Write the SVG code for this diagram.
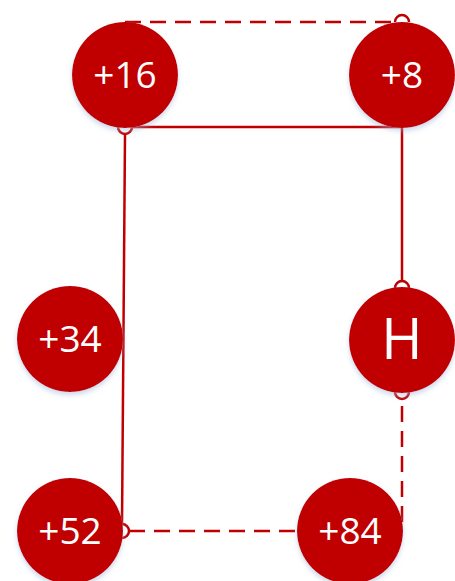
<svg xmlns="http://www.w3.org/2000/svg" width="455" height="581" viewBox="0 0 455 581">
<style>
.n{fill:#C00000;filter:url(#sh)}
.t{fill:#fff;font-family:"Open Sans","Liberation Sans",sans-serif;font-size:37px;text-anchor:middle}
.h{font-size:56px}
.c{fill:none;stroke:#C00000;stroke-width:2.5}
.d{stroke-dasharray:16 9}
</style>
<defs>
<filter id="sh" x="-20%" y="-20%" width="140%" height="150%">
<feDropShadow dx="0" dy="3" stdDeviation="2.5" flood-color="#9bb3d6" flood-opacity="0.5"/>
</filter>
</defs>
<g id="connectors">
<path class="c d" d="M125,22 H395"/>
<path class="c" d="M395,22 A7,7 0 0 1 409,22"/>
<path class="c" d="M132,127 H402"/>
<path class="c" d="M118,127 A7,7 0 0 0 132,127"/>
<path class="c" d="M125,134 L122,524"/>
<path class="c" d="M122,524 A7,7 0 0 1 122,538"/>
<path class="c d" d="M129,531 H297"/>
<path class="c" d="M402,127 V281"/>
<path class="c" d="M395,288 A7,7 0 0 1 409,288"/>
<path class="c" d="M395,392 A7,7 0 0 0 409,392"/>
<path class="c d" d="M402,406 V522"/>
</g>
<g id="n16"><circle class="n" cx="125" cy="75" r="53"/><text class="t" x="125" y="88">+16</text></g>
<g id="n8"><circle class="n" cx="402" cy="75" r="53"/><text class="t" x="402" y="88">+8</text></g>
<g id="nH"><circle class="n" cx="402" cy="340" r="53"/><text class="t h" x="402" y="359">H</text></g>
<g id="n34"><circle class="n" cx="70" cy="339" r="53"/><text class="t" x="70" y="352">+34</text></g>
<g id="n52"><circle class="n" cx="70" cy="531" r="53"/><text class="t" x="70" y="544">+52</text></g>
<g id="n84"><circle class="n" cx="350" cy="531" r="53"/><text class="t" x="350" y="544">+84</text></g>
</svg>
